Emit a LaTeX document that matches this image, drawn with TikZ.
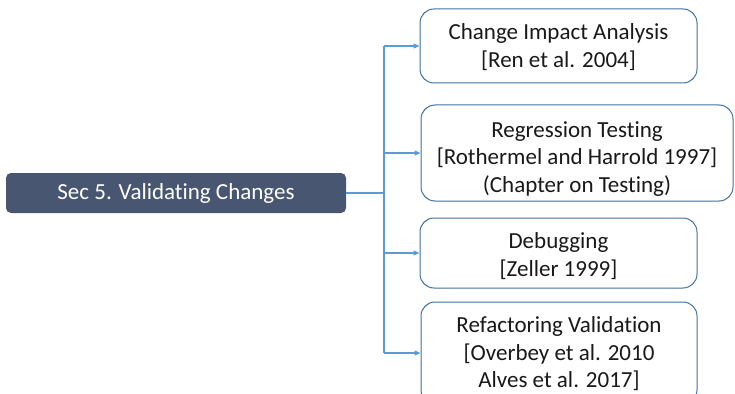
\documentclass[tikz,border=0pt]{standalone}
\usepackage{fontspec}
\setmainfont{Carlito}[Ligatures={NoCommon}]
\usetikzlibrary{arrows.meta}
\definecolor{slate}{HTML}{485671}
\definecolor{linkblue}{HTML}{5B9BD5}
\definecolor{edgeblue}{HTML}{41719C}
\tikzset{
  topic/.style={draw=edgeblue, line width=1pt, rounded corners=14pt, fill=white,
    inner sep=0pt},
  topictext/.style={align=center, inner sep=0pt,
    font=\fontsize{23}{27.5}\selectfont, text=black!90},
  root/.style={fill=slate, rounded corners=5pt, text=white, inner sep=0pt,
    font=\fontsize{23}{24}\selectfont},
  link/.style={draw=linkblue, line width=1.2pt},
  arrowlink/.style={link, -{Triangle[length=6pt,width=5pt]}}
}
\begin{document}
\begin{tikzpicture}[x=1pt,y=-1pt]
  \useasboundingbox (0,0) rectangle (735,393);
  \clip (0,0) rectangle (735,393);

  % root of the tree
  \node[root, minimum width=340pt, minimum height=40pt] (main) at (176,193)
    {Sec 5. Validating Changes};

  % topic frames
  \node[topic, minimum width=277pt, minimum height=74pt] (b1) at (558.5,46) {};
  \node[topic, minimum width=312pt, minimum height=96pt] (b2) at (577,153) {};
  \node[topic, minimum width=277pt, minimum height=70pt] (b3) at (558.5,253) {};
  \node[topic, minimum width=276pt, minimum height=102pt] (b4) at (559,353) {};

  % topic texts
  \node[topictext] (t1) at ([yshift=-1pt]b1.center)
    {Change Impact Analysis\\{}[Ren et al. 2004]};
  \node[topictext] (t2) at ([yshift=-6pt]b2.center)
    {Regression Testing\\{}[Rothermel and Harrold 1997]\\(Chapter on Testing)};
  \node[topictext] (t3) at ([yshift=-3pt]b3.center)
    {Debugging\\{}[Zeller 1999]};
  \node[topictext] (t4) at ([yshift=-1pt]b4.center)
    {Refactoring Validation\\{}[Overbey et al. 2010\\Alves et al. 2017]};

  % trunk joint
  \coordinate (jt) at (384,193);

  % connectors
  \draw[link] (main.east) -- (jt);
  \draw[link] (jt |- b1.west) -- (jt |- b4.west);
  \draw[arrowlink] (jt |- b1.west) -- (b1.west);
  \draw[arrowlink] (jt |- b2.west) -- (b2.west);
  \draw[arrowlink] (jt |- b3.west) -- (b3.west);
  \draw[arrowlink] (jt |- b4.west) -- (b4.west);
\end{tikzpicture}
\end{document}
